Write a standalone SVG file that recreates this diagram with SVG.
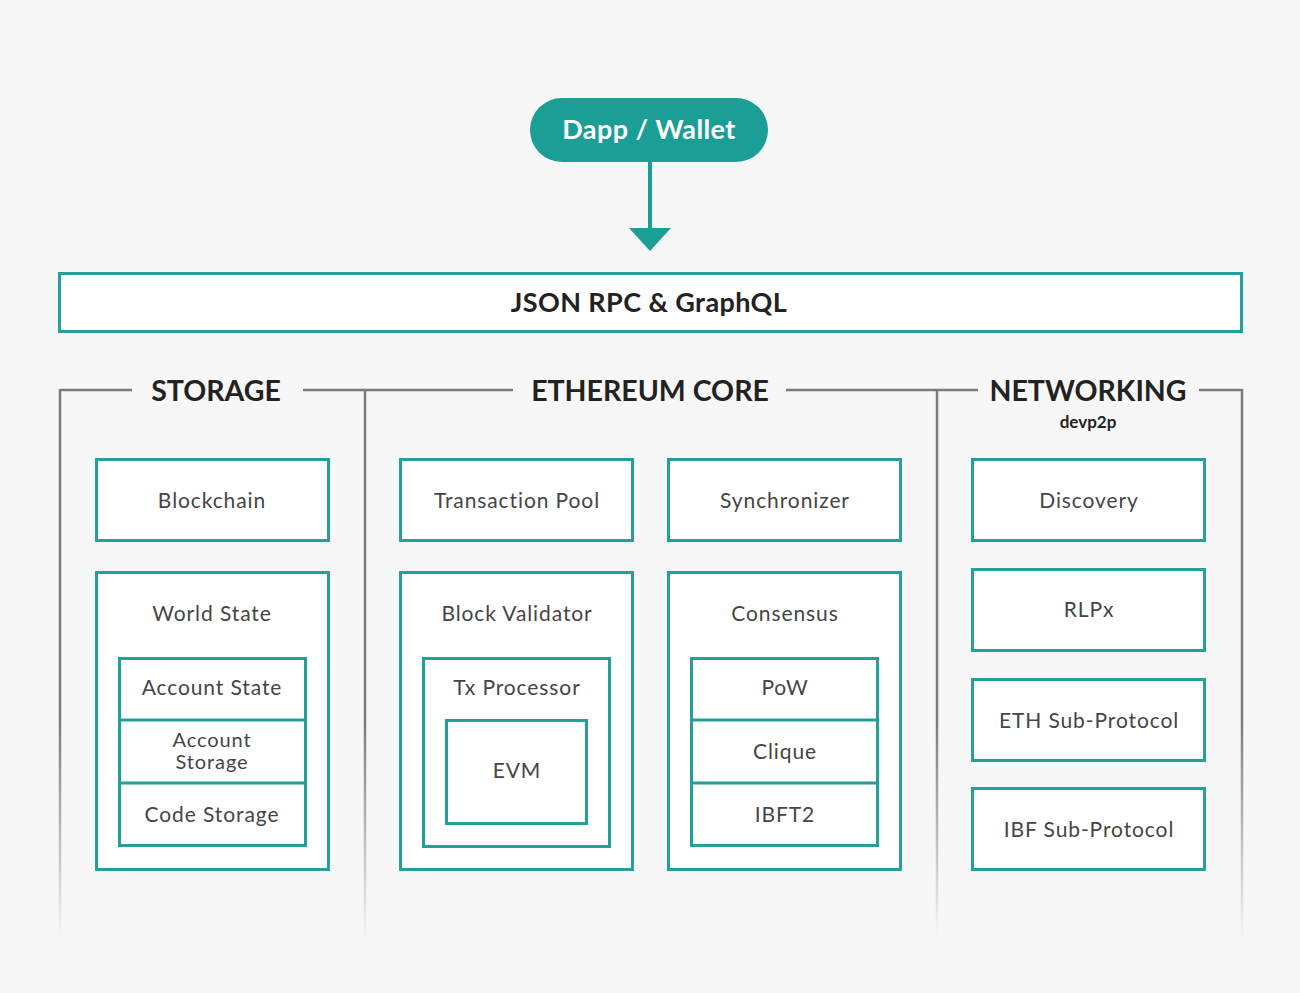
<svg xmlns="http://www.w3.org/2000/svg" width="1300" height="993" viewBox="0 0 1300 993">
<defs>
<linearGradient id="fade" gradientUnits="userSpaceOnUse" x1="0" y1="390" x2="0" y2="940">
<stop offset="0" stop-color="#7b7b7b"/>
<stop offset="0.6" stop-color="#7b7b7b"/>
<stop offset="1" stop-color="#7b7b7b" stop-opacity="0"/>
</linearGradient>
</defs>
<style>
.box{fill:#ffffff;stroke:#24a09a;stroke-width:3}
.div{stroke:#24a09a;stroke-width:3}
.lbl{font-family:Lato,"Liberation Sans",sans-serif;font-size:21px;fill:#454545;text-anchor:middle;letter-spacing:0.9px}
.sm{font-size:20px}
.sec{font-family:Lato,"Liberation Sans",sans-serif;font-size:28.5px;font-weight:bold;fill:#222222;text-anchor:middle}
.hline{stroke:#7b7b7b;stroke-width:2.5;fill:none}
.vline{stroke:url(#fade);stroke-width:2.5;fill:none}
</style>
<rect x="0" y="0" width="1300" height="993" fill="#f7f7f7"/>

<g id="dapp">
<rect x="530" y="98" width="238" height="64" rx="32" fill="#1a9e96"/>
<text x="649" y="139" font-family="Lato,'Liberation Sans',sans-serif" font-size="27" font-weight="bold" fill="#ffffff" text-anchor="middle" letter-spacing="0.4">Dapp / Wallet</text>
</g>

<g id="connectors">
<line x1="650" y1="162" x2="650" y2="230" stroke="#1a9e96" stroke-width="4"/>
<polygon points="629,228 671,228 650,251" fill="#1a9e96"/>
</g>

<g id="jsonrpc">
<rect class="box" x="59.5" y="273.5" width="1182" height="58"/>
<text x="649" y="312" font-family="Lato,'Liberation Sans',sans-serif" font-size="27" font-weight="bold" fill="#222222" text-anchor="middle" letter-spacing="0.4">JSON RPC &amp; GraphQL</text>
</g>

<g id="sections">
<polyline class="hline" points="132,390 60,390"/>
<polyline class="hline" points="303,390 513,390"/>
<polyline class="hline" points="786,390 978,390"/>
<polyline class="hline" points="1199,390 1242,390"/>
<line class="vline" x1="60" y1="389" x2="60" y2="940"/>
<line class="vline" x1="365" y1="389" x2="365" y2="940"/>
<line class="vline" x1="937" y1="389" x2="937" y2="940"/>
<line class="vline" x1="1242" y1="389" x2="1242" y2="940"/>
<text class="sec" x="216" y="401">STORAGE</text>
<text class="sec" x="650" y="401">ETHEREUM CORE</text>
<text class="sec" x="1088" y="401">NETWORKING</text>
<text x="1088" y="428" font-family="Lato,'Liberation Sans',sans-serif" font-size="17" font-weight="bold" fill="#222222" text-anchor="middle">devp2p</text>
</g>

<g id="blockchain">
<rect class="box" x="96.5" y="459.5" width="232" height="81"/>
<text class="lbl" x="212" y="508">Blockchain</text>
</g>

<g id="worldstate">
<rect class="box" x="96.5" y="572.5" width="232" height="297"/>
<text class="lbl" x="212" y="621">World State</text>
<rect class="box" x="119.5" y="658.5" width="186" height="187"/>
<line class="div" x1="119" y1="720" x2="306" y2="720"/>
<line class="div" x1="119" y1="783" x2="306" y2="783"/>
<text class="lbl" x="212" y="695">Account State</text>
<text class="lbl sm" x="212" y="747">Account</text>
<text class="lbl sm" x="212" y="769">Storage</text>
<text class="lbl" x="212" y="822">Code Storage</text>
</g>

<g id="txpool">
<rect class="box" x="400.5" y="459.5" width="232" height="81"/>
<text class="lbl" x="517" y="508">Transaction Pool</text>
</g>

<g id="synchronizer">
<rect class="box" x="668.5" y="459.5" width="232" height="81"/>
<text class="lbl" x="785" y="508">Synchronizer</text>
</g>

<g id="blockvalidator">
<rect class="box" x="400.5" y="572.5" width="232" height="297"/>
<text class="lbl" x="517" y="621">Block Validator</text>
<rect class="box" x="423.5" y="658.5" width="186" height="188"/>
<text class="lbl" x="517" y="695">Tx Processor</text>
<rect class="box" x="446.5" y="720.5" width="140" height="103"/>
<text class="lbl" x="517" y="778">EVM</text>
</g>

<g id="consensus">
<rect class="box" x="668.5" y="572.5" width="232" height="297"/>
<text class="lbl" x="785" y="621">Consensus</text>
<rect class="box" x="691.5" y="658.5" width="186" height="187"/>
<line class="div" x1="691" y1="720" x2="878" y2="720"/>
<line class="div" x1="691" y1="783" x2="878" y2="783"/>
<text class="lbl" x="785" y="695">PoW</text>
<text class="lbl" x="785" y="759">Clique</text>
<text class="lbl" x="785" y="822">IBFT2</text>
</g>

<g id="discovery">
<rect class="box" x="972.5" y="459.5" width="232" height="81"/>
<text class="lbl" x="1089" y="508">Discovery</text>
</g>

<g id="rlpx">
<rect class="box" x="972.5" y="569.5" width="232" height="81"/>
<text class="lbl" x="1089" y="617">RLPx</text>
</g>

<g id="ethsub">
<rect class="box" x="972.5" y="679.5" width="232" height="81"/>
<text class="lbl" x="1089" y="728">ETH Sub-Protocol</text>
</g>

<g id="ibfsub">
<rect class="box" x="972.5" y="788.5" width="232" height="81"/>
<text class="lbl" x="1089" y="837">IBF Sub-Protocol</text>
</g>
</svg>
